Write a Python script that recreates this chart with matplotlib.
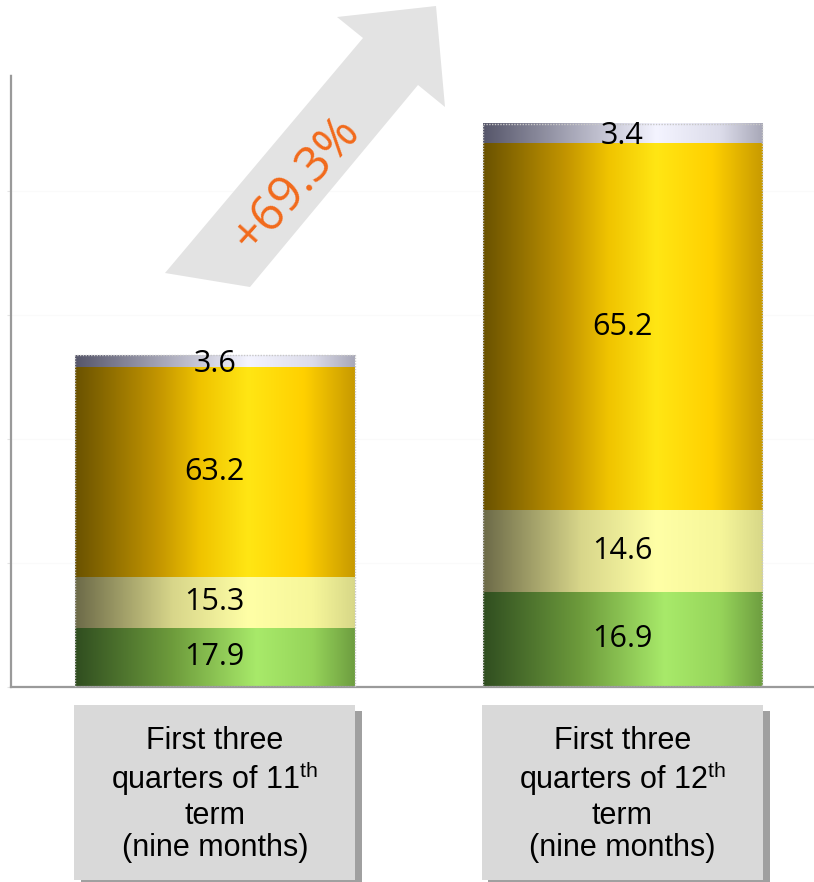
import numpy as np
import matplotlib
matplotlib.use("Agg")
import matplotlib.pyplot as plt
from matplotlib.colors import LinearSegmentedColormap
from matplotlib.patches import Rectangle, Polygon
from matplotlib.transforms import blended_transform_factory

# data
categories = ["First three\nquarters of 11$^{\\mathrm{th}}$\nterm\n(nine months)",
              "First three\nquarters of 12$^{\\mathrm{th}}$\nterm\n(nine months)"]
share_11 = [17.9, 15.3, 63.2, 3.6]
share_12 = [16.9, 14.6, 65.2, 3.4]
totals = [100.0, 169.3]
growth_label = "+69.3%"

plt.rcParams['mathtext.fontset'] = 'custom'
plt.rcParams['mathtext.rm'] = 'Liberation Sans'

# horizontal shading per segment (left -> right)
seg_cmaps = [
    LinearSegmentedColormap.from_list("green", [(0, "#304e20"), (0.35, "#6e9c3c"), (0.65, "#a8ea6a"), (0.85, "#96d45a"), (1, "#6e9e40")]),
    LinearSegmentedColormap.from_list("pale", [(0, "#6c6a48"), (0.35, "#d8d68a"), (0.62, "#ffffa6"), (0.85, "#f6f69a"), (1, "#d8d888")]),
    LinearSegmentedColormap.from_list("gold", [(0, "#6a5200"), (0.3, "#c49600"), (0.45, "#f0c400"), (0.62, "#ffe614"), (0.82, "#ffd000"), (1, "#c89a00")]),
    LinearSegmentedColormap.from_list("grey", [(0, "#56566a"), (0.35, "#b0b0c0"), (0.62, "#f4f4ff"), (0.85, "#dcdcea"), (1, "#a8a8b8")]),
]

fig = plt.figure(figsize=(8.14, 8.82), dpi=100)
ax = fig.add_axes([11/814, 1-687/882, 1-11/814, 612/882])

width = 0.686
grad = np.linspace(0, 1, 256).reshape(1, -1)
for i, (shares, total) in enumerate(zip([share_11, share_12], totals)):
    bottom = 0.0
    for j, s in enumerate(shares):
        h = s * total / 100.0
        ax.imshow(grad, cmap=seg_cmaps[j], aspect='auto', interpolation='bicubic',
                  extent=(i - width/2, i + width/2, bottom, bottom + h), zorder=2)
        ax.text(i, bottom + h/2 - (0.8 if j == 3 else 0), f"{s}", ha='center', va='center',
                fontsize=22, family='Open Sans', fontstyle='normal', color='black', zorder=4)
        bottom += h
    ax.add_patch(Rectangle((i - width/2, 0), width, bottom, fill=False, ec="#c8c8c8",
                           lw=1.0, ls=(0, (1, 1)), zorder=3))

ax.set_xlim(-0.5, 1.47)
ax.set_ylim(0, 184.3)
ax.set_yticks(np.arange(0, 184, 37.35))
ax.yaxis.grid(True, color="#fafafa", lw=1)
ax.set_axisbelow(True)
ax.tick_params(axis='y', length=3, color="#e4e4e4", labelleft=False)
ax.tick_params(axis='x', length=0, labelbottom=False)
for side in ['top', 'right']:
    ax.spines[side].set_visible(False)
for side in ['left', 'bottom']:
    ax.spines[side].set_color("#9a9a9a")
    ax.spines[side].set_linestyle((0, (1, 1)))
    ax.spines[side].set_linewidth(1.6)

# category boxes under bars
trans = blended_transform_factory(ax.transData, ax.transAxes)
box_w = 0.69
for i, lab in enumerate(categories):
    x0 = i - box_w/2
    y0, y1 = -0.315, -0.029
    ax.add_patch(Rectangle((x0 + 0.016, y0 - 0.010), box_w, y1 - y0, transform=trans,
                           fc="#a0a0a0", ec='none', clip_on=False, zorder=1))
    ax.add_patch(Rectangle((x0, y0), box_w, y1 - y0, transform=trans,
                           fc="#d9d9d9", ec='none', clip_on=False, zorder=2))
    ax.text(i, (y0 + y1)/2 - 0.004, lab, transform=trans, ha='center', va='center',
            fontsize=22, family='Liberation Sans', linespacing=1.1, zorder=3)

# growth arrow (figure pixel coords -> figure fraction)
W, H = 814, 882
pts = [(165, 273), (250, 287), (418, 85), (445, 107), (436, 6), (337, 17), (363, 38)]
arrow = Polygon([(x / W, 1 - y / H) for x, y in pts], closed=True,
                transform=fig.transFigure, fc="#e3e3e3", ec='none', zorder=5)
fig.patches.append(arrow)
fig.text(297/W, 1 - 184/H, growth_label, rotation=48, ha='center', va='center',
         fontsize=35, family='Open Sans', color="#f26a1b", zorder=6)

fig.savefig("out.png", dpi=100)
